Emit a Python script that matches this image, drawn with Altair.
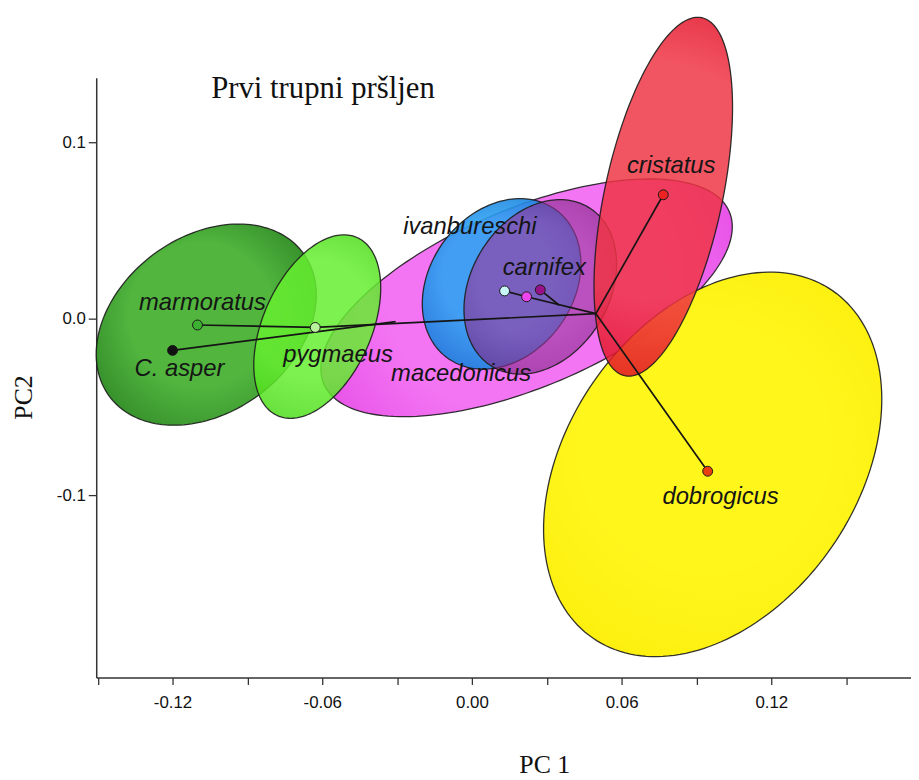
import numpy as np
import pandas as pd
import altair as alt

# ---- data ----
species = ["C. asper", "marmoratus", "pygmaeus", "ivanbureschi",
           "macedonicus", "carnifex", "cristatus", "dobrogicus"]
pc1 = [-0.120, -0.110, -0.0628, 0.0131, 0.0219, 0.0274, 0.0767, 0.0945]
pc2 = [-0.0180, -0.0036, -0.0050, 0.0157, 0.0124, 0.0163, 0.0702, -0.0865]
point_colors = ["#111111", "#3cb030", "#b8f29a", "#c8f6f6",
                "#ee44ee", "#991188", "#ee2222", "#e8400f"]

# tree nodes (internal)
node_names = ["N1", "A", "B"]
node_pc1 = [0.0497, -0.0306, 0.0350]
node_pc2 = [0.0028, -0.0017, 0.0076]
edges_from = ["marmoratus", "pygmaeus", "C. asper", "ivanbureschi",
              "macedonicus", "carnifex", "N1", "N1"]
edges_to = ["pygmaeus", "N1", "A", "macedonicus", "N1", "B",
            "cristatus", "dobrogicus"]

# ellipses: centre (PC1, PC2), semi-axes (PC1 units), screen angle (deg)
ell_names = ["macedonicus", "marmoratus", "pygmaeus", "ivanbureschi",
             "carnifex", "dobrogicus", "cristatus"]
ell_cx = [0.0219, -0.1065, -0.0620, 0.0119, 0.0274, 0.0965, 0.0767]
ell_cy = [0.0118, -0.0034, -0.0045, 0.0197, 0.0180, -0.0826, 0.0691]
ell_a = [0.0883, 0.0483, 0.0391, 0.0368, 0.0373, 0.0846, 0.0734]
ell_b = [0.0357, 0.0352, 0.0217, 0.0287, 0.0277, 0.0581, 0.0236]
ell_ang = [23.0, 36.5, 65.9, 53.6, 58.7, 55.4, 77.85]
ell_inner = ["#f266f2", "#46b032", "#66ee30", "#2ea2f2",
             "#9a3aa0", "#fff510", "#f03444"]
ell_outer = ["#e236e2", "#24821a", "#48d816", "#1478d8",
             "#7a2280", "#fcee00", "#dc0018"]
ell_alpha = [0.9, 0.94, 0.85, 0.9, 0.63, 0.95, 0.84]

# label offsets (pixels from the point)
label_dx = [7, 5, 23, -35, -66, 4, 8, 13]
label_dy = [26, -15, 35, -57, 85, -15, -22, 33]

chart_title = "Prvi trupni pršljen"

# ---- scales ----
XDOM = [-0.1506, 0.176]
YDOM = [-0.2034, 0.1365]
W, H = 822, 605
RATIO = (W / (XDOM[1] - XDOM[0])) / (H / (YDOM[1] - YDOM[0]))

xs = alt.Scale(domain=XDOM, nice=False, zero=False)
ys = alt.Scale(domain=YDOM, nice=False, zero=False)

x_axis = alt.Axis(
    values=[-0.15, -0.12, -0.09, -0.06, -0.03, 0.0, 0.03, 0.06, 0.09, 0.12, 0.15],
    labelExpr="abs(round(datum.value*100)) % 6 == 0 ? (datum.value < -0.0001 ? '-' : '') + format(abs(datum.value), '.2f') : ''",
    title="PC 1", titleFont="Liberation Serif", titleFontSize=26,
    titleFontWeight="normal", titleColor="#111",
    titleX=452, titleY=96, titleBaseline="alphabetic", titleAnchor="start",
    titleAlign="center",
    tickSize=7, labelPadding=10)
y_axis = alt.Axis(
    values=[-0.1, 0.0, 0.1],
    labelExpr="(datum.value < -0.0001 ? '-' : '') + format(abs(datum.value), '.1f')",
    title="PC2", titleFont="Liberation Serif", titleFontSize=26,
    titleFontWeight="normal", titleColor="#111",
    titleX=-73, titleY=322, titleBaseline="middle", titleAlign="center",
    titleAngle=270,
    tickSize=8, labelPadding=3)

layers = []
t = np.linspace(0, 2 * np.pi, 181)
for i, nm in enumerate(ell_names):
    th = np.deg2rad(ell_ang[i])
    dx = ell_a[i] * np.cos(t) * np.cos(th) - ell_b[i] * np.sin(t) * np.sin(th)
    dy = ell_a[i] * np.cos(t) * np.sin(th) + ell_b[i] * np.sin(t) * np.cos(th)
    d = pd.DataFrame({"x": ell_cx[i] + dx, "y": ell_cy[i] + dy * RATIO,
                      "k": np.arange(len(t))})
    grad = alt.RadialGradient(
        gradient="radial", x1=0.45, y1=0.4, x2=0.5, y2=0.5, r1=0, r2=0.6,
        stops=[alt.GradientStop(offset=0, color=ell_inner[i]),
               alt.GradientStop(offset=0.55, color=ell_inner[i]),
               alt.GradientStop(offset=1, color=ell_outer[i])])
    layers.append(
        alt.Chart(d).mark_line(fill=grad, fillOpacity=ell_alpha[i],
                               stroke="#1c1c1c", strokeWidth=1.3,
                               strokeOpacity=0.9)
        .encode(x=alt.X("x:Q", scale=xs, axis=x_axis),
                y=alt.Y("y:Q", scale=ys, axis=y_axis),
                order="k:Q"))

pos = {s: (pc1[i], pc2[i]) for i, s in enumerate(species)}
for i, n in enumerate(node_names):
    pos[n] = (node_pc1[i], node_pc2[i])
seg = pd.DataFrame({
    "x": [pos[a][0] for a in edges_from], "y": [pos[a][1] for a in edges_from],
    "x2": [pos[b][0] for b in edges_to], "y2": [pos[b][1] for b in edges_to]})
layers.append(
    alt.Chart(seg).mark_rule(color="#151515", strokeWidth=1.7)
    .encode(x=alt.X("x:Q", scale=xs, axis=x_axis),
            y=alt.Y("y:Q", scale=ys, axis=y_axis),
            x2="x2:Q", y2="y2:Q"))

pts = pd.DataFrame({"species": species, "pc1": pc1, "pc2": pc2,
                    "col": point_colors})
layers.append(
    alt.Chart(pts).mark_circle(size=100, opacity=1, stroke="#1a1a1a",
                               strokeWidth=1)
    .encode(x=alt.X("pc1:Q", scale=xs, axis=x_axis),
            y=alt.Y("pc2:Q", scale=ys, axis=y_axis),
            color=alt.Color("col:N", scale=None)))

for i, s in enumerate(species):
    layers.append(
        alt.Chart(pts[pts.species == s]).mark_text(
            font="Liberation Sans", fontStyle="italic", fontSize=24,
            color="#151515", align="center", baseline="alphabetic",
            dx=label_dx[i], dy=label_dy[i])
        .encode(x=alt.X("pc1:Q", scale=xs, axis=x_axis),
                y=alt.Y("pc2:Q", scale=ys, axis=y_axis),
                text="species:N"))

# in-plot heading
layers.append(
    alt.Chart(pd.DataFrame({"t": [chart_title]})).mark_text(
        font="Liberation Serif", fontSize=31, color="#111",
        align="left", baseline="alphabetic")
    .encode(x=alt.value(116), y=alt.value(20), text="t:N"))

chart = alt.layer(*layers).properties(
    width=W, height=H,
    autosize=alt.AutoSizeParams(type="none"),
    padding={"left": 89, "top": 67, "right": 0, "bottom": 100},
).configure_view(stroke=None).configure_axis(
    grid=False, domainColor="#333", domainWidth=1.5, tickColor="#333",
    tickWidth=1.3, labelFont="Liberation Sans", labelFontSize=17,
    labelColor="#111")

chart.save("out.html", embed_options={"renderer": "svg", "actions": False})
